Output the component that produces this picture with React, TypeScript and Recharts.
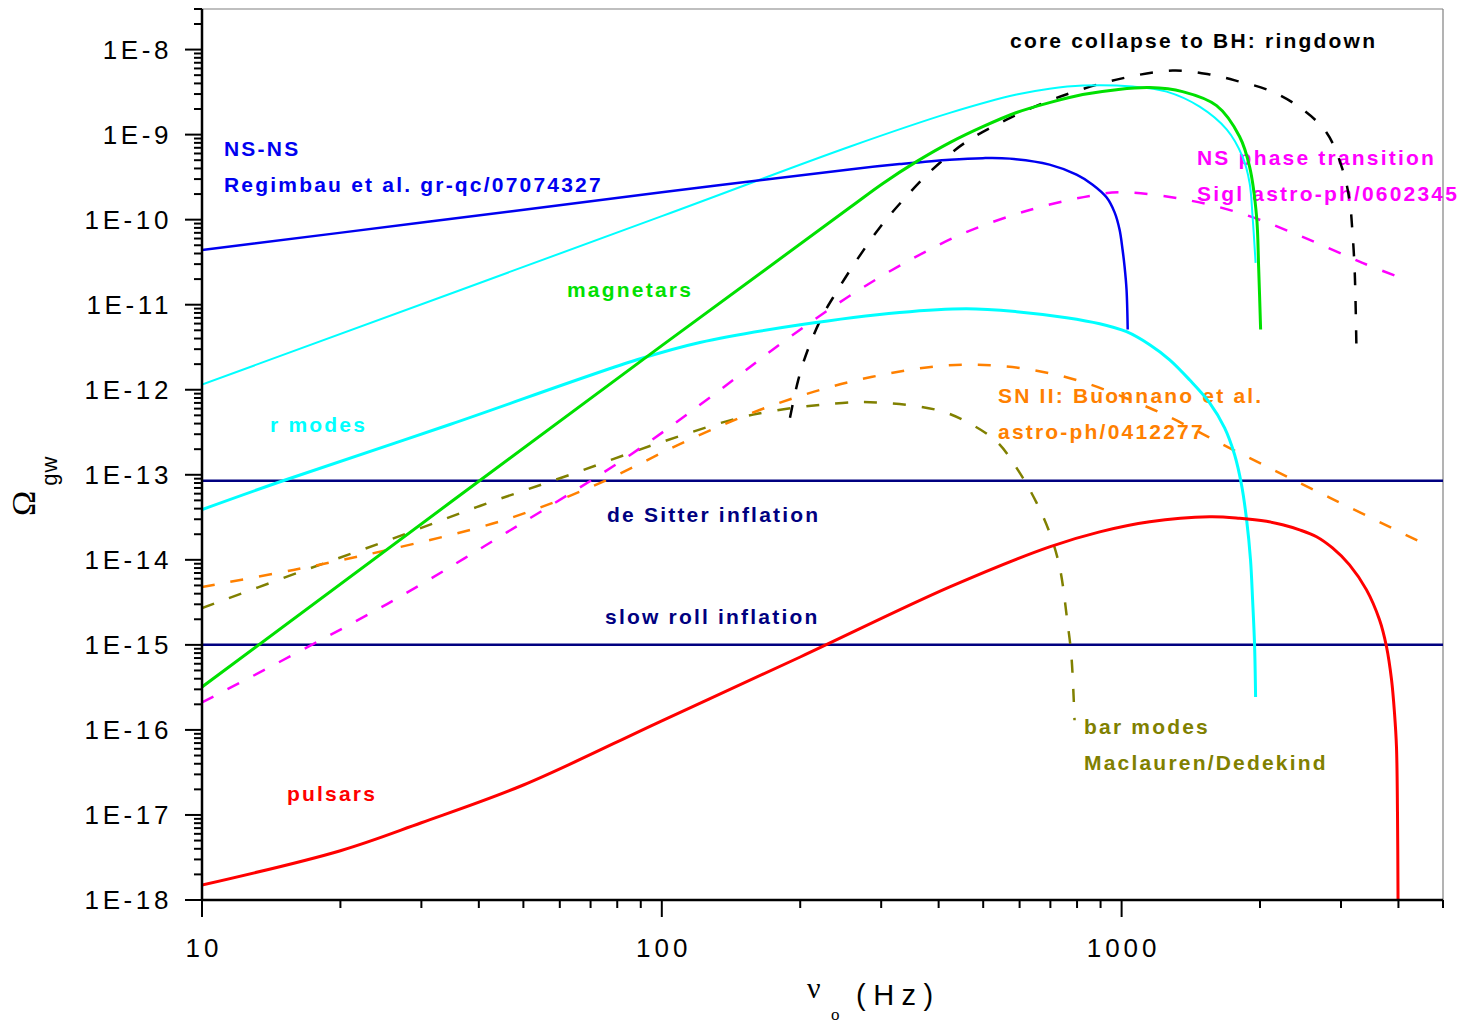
import React from 'react';
import { LineChart, Line, XAxis, YAxis, ReferenceLine, Customized } from 'recharts';

interface Pt {
  f: number;
  v: number;
}

// frequencies in Hz, Omega_gw
const nsnsFreq = [10, 31.3, 100, 256, 329, 423, 499, 571, 697, 798, 865, 928, 966, 990, 1005, 1015, 1025, 1031];
const nsnsOmega = [4.4e-11, 9.5e-11, 2.1e-10, 3.9e-10, 4.5e-10, 5.08e-10, 5.29e-10, 5.22e-10, 4.44e-10, 3.38e-10, 2.58e-10, 1.82e-10, 1.21e-10, 7.6e-11, 4.4e-11, 2.8e-11, 1.5e-11, 5.1e-12];

const rThinFreq = [10, 100, 256, 423, 591, 697, 823, 1057, 1253, 1478, 1692, 1832, 1898, 1927, 1956];
const rThinOmega = [1.15e-12, 1.1e-10, 7.2e-10, 1.8e-9, 2.96e-9, 3.47e-9, 3.77e-9, 3.67e-9, 3.2e-9, 2.13e-9, 1.15e-9, 5.5e-10, 2.72e-10, 1.08e-10, 3.1e-11];

const magFreq = [10, 100, 256, 302, 358, 423, 499, 591, 697, 823, 975, 1151, 1357, 1609, 1805, 1898, 1966, 1986, 2006];
const magOmega = [3.2e-16, 3.3e-12, 1.38e-10, 2.65e-10, 4.81e-10, 8.05e-10, 1.24e-9, 1.82e-9, 2.38e-9, 2.96e-9, 3.38e-9, 3.57e-9, 3.2e-9, 2.19e-9, 9.5e-10, 4.2e-10, 1.08e-10, 2.8e-11, 5.1e-12];

const rModesFreq = [10, 15, 34.6, 88.3, 121, 200, 329, 460, 591, 759, 896, 1025, 1151, 1272, 1405, 1554, 1675, 1761, 1823, 1870, 1907, 1927, 1946, 1956];
const rModesOmega = [3.9e-14, 8.5e-14, 3.9e-13, 2.25e-12, 3.6e-12, 5.8e-12, 8.1e-12, 8.97e-12, 8.28e-12, 7.03e-12, 5.97e-12, 4.81e-12, 3.38e-12, 2.25e-12, 1.31e-12, 7.03e-13, 3.57e-13, 1.72e-13, 7.62e-14, 2.96e-14, 1e-14, 3.38e-15, 1e-15, 2.44e-16];

const bhFreq = [190, 198, 207, 223, 240, 263, 298, 338, 388, 456, 562, 722, 975, 1291, 1554, 1805, 2097, 2438, 2790, 3023, 3131, 3178, 3210, 3226, 3243];
const bhOmega = [4.7e-13, 1.3e-12, 2.8e-12, 7.2e-12, 1.42e-11, 3.1e-11, 8.1e-11, 1.8e-10, 3.9e-10, 8.0e-10, 1.5e-9, 2.7e-9, 4.43e-9, 5.66e-9, 5.1e-9, 4.2e-9, 3.3e-9, 2.1e-9, 1.06e-9, 3.9e-10, 1.7e-10, 7.0e-11, 2.8e-11, 1.15e-11, 2.6e-12];

const phaseFreq = [10, 25.2, 46, 85.2, 134, 183, 252, 341, 456, 631, 852, 990, 1337, 1805, 2438, 3341, 4021];
const phaseOmega = [2.1e-16, 3.0e-15, 2.1e-14, 1.7e-13, 1.0e-12, 3.6e-12, 1.2e-11, 3.2e-11, 7.0e-11, 1.3e-10, 1.9e-10, 2.1e-10, 1.77e-10, 1.2e-10, 6.5e-11, 3.1e-11, 2.1e-11];

const snFreq = [10, 15.8, 25.2, 46, 73.3, 115, 180, 287, 456, 722, 1151, 1805, 2833, 4720];
const snOmega = [4.8e-15, 7.6e-15, 1.3e-14, 3.0e-14, 8.0e-14, 2.6e-13, 7.0e-13, 1.42e-12, 1.97e-12, 1.5e-12, 6.1e-13, 1.8e-13, 5.4e-14, 1.4e-14];

const barFreq = [10, 16.1, 25.6, 40.2, 63.1, 100.5, 158, 247, 293, 396, 456, 535, 600, 653, 697, 733, 763, 778, 790];
const barOmega = [2.7e-15, 7.0e-15, 1.72e-14, 4.3e-14, 1.0e-13, 2.45e-13, 5.1e-13, 7.0e-13, 7.1e-13, 5.8e-13, 4.3e-13, 2.45e-13, 1.06e-13, 4.7e-14, 2.1e-14, 8.3e-15, 1.8e-15, 7.2e-16, 1.3e-16];

const pulsarFreq = [10, 20, 30, 50, 100, 200, 423, 697, 896, 1151, 1554, 1805, 2066, 2239, 2438, 2654, 2875, 3131, 3409, 3638, 3768, 3864, 3922, 3961, 3981, 3992];
const pulsarOmega = [1.5e-18, 3.8e-18, 8.1e-18, 2.25e-17, 1.28e-16, 7.2e-16, 4.8e-15, 1.42e-14, 2.13e-14, 2.8e-14, 3.2e-14, 3.08e-14, 2.84e-14, 2.58e-14, 2.25e-14, 1.87e-14, 1.38e-14, 8.73e-15, 4.43e-15, 1.97e-15, 9.5e-16, 3.9e-16, 1.58e-16, 6.3e-17, 1.06e-17, 1e-18];

const inflFreq = [10, 5000];
const deSitterOmega = [8.5e-14, 8.5e-14];
const slowRollOmega = [1e-15, 1e-15];

// axis ticks
const xMajorTicks = [10, 100, 1000];
const xTickLabels = ['10', '100', '1000'];
const yMajorTicks = [1e-18, 1e-17, 1e-16, 1e-15, 1e-14, 1e-13, 1e-12, 1e-11, 1e-10, 1e-9, 1e-8];
const yTickLabels = ['1E-18', '1E-17', '1E-16', '1E-15', '1E-14', '1E-13', '1E-12', '1E-11', '1E-10', '1E-9', '1E-8'];

const X_MAX = 5000;
const Y_MIN = 1e-18;
const Y_MAX = 3e-8;

const zip = (f: number[], v: number[]): Pt[] => f.map((x, i) => ({ f: x, v: v[i] }));

// 1..9 times each decade, clipped to the axis end
const expandTicks = (majors: number[], max: number) => {
  const out: number[] = [];
  majors.forEach(d => {
    for (let m = 1; m <= 9; m++) {
      const t = m * d;
      if (t <= max * 1.0001) out.push(t);
    }
  });
  return out;
};
const xTicks = expandTicks(xMajorTicks, X_MAX);
const yTicks = expandTicks(yMajorTicks, Y_MAX);

const isMajor = (v: number) => {
  const lg = Math.log10(v);
  return Math.abs(lg - Math.round(lg)) < 1e-6;
};

// centripetal catmull-rom curve (same maths as d3's curveCatmullRom, alpha 0.5)
const catmullRom = (context: any) => {
  let pts: number[][] = [];
  return {
    areaStart() {},
    areaEnd() {},
    lineStart() {
      pts = [];
    },
    point(x: number, y: number) {
      pts.push([+x, +y]);
    },
    lineEnd() {
      if (!pts.length) return;
      context.moveTo(pts[0][0], pts[0][1]);
      for (let i = 0; i < pts.length - 1; i++) {
        const p0 = pts[i - 1] || pts[i];
        const p1 = pts[i];
        const p2 = pts[i + 1];
        const p3 = pts[i + 2] || p2;
        const d01 = Math.hypot(p1[0] - p0[0], p1[1] - p0[1]);
        const d12 = Math.hypot(p2[0] - p1[0], p2[1] - p1[1]);
        const d23 = Math.hypot(p3[0] - p2[0], p3[1] - p2[1]);
        const l01 = Math.sqrt(d01);
        const l12 = Math.sqrt(d12);
        const l23 = Math.sqrt(d23);
        let c1 = p1;
        let c2 = p2;
        if (l01 > 1e-9) {
          const a = 2 * d01 + 3 * l01 * l12 + d12;
          const n = 3 * l01 * (l01 + l12);
          c1 = [(p1[0] * a - p0[0] * d12 + p2[0] * d01) / n, (p1[1] * a - p0[1] * d12 + p2[1] * d01) / n];
        }
        if (l23 > 1e-9) {
          const b = 2 * d23 + 3 * l23 * l12 + d12;
          const m = 3 * l23 * (l23 + l12);
          c2 = [(p2[0] * b + p1[0] * d23 - p3[0] * d12) / m, (p2[1] * b + p1[1] * d23 - p3[1] * d12) / m];
        }
        context.bezierCurveTo(c1[0], c1[1], c2[0], c2[1], p2[0], p2[1]);
      }
    },
  };
};

const series = [
  { key: 'desitter', data: zip(inflFreq, deSitterOmega), color: '#000080', width: 2.5 },
  { key: 'slowroll', data: zip(inflFreq, slowRollOmega), color: '#000080', width: 2.5 },
  { key: 'bar', data: zip(barFreq, barOmega), color: '#808000', width: 2.5, dash: '13 16' },
  { key: 'sn', data: zip(snFreq, snOmega), color: '#ff8000', width: 2.5, dash: '13 16' },
  { key: 'phase', data: zip(phaseFreq, phaseOmega), color: '#ff00ff', width: 2.5, dash: '13 16' },
  { key: 'bh', data: zip(bhFreq, bhOmega), color: '#000000', width: 2.5, dash: '13 16' },
  { key: 'rthin', data: zip(rThinFreq, rThinOmega), color: '#00ffff', width: 2 },
  { key: 'rmodes', data: zip(rModesFreq, rModesOmega), color: '#00ffff', width: 3 },
  { key: 'nsns', data: zip(nsnsFreq, nsnsOmega), color: '#0000f0', width: 2.5 },
  { key: 'mag', data: zip(magFreq, magOmega), color: '#00e000', width: 3 },
  { key: 'pulsar', data: zip(pulsarFreq, pulsarOmega), color: '#ff0000', width: 3 },
];

const annotations = [
  { text: 'NS-NS', color: '#0000f0', x: 224, y: 156 },
  { text: 'Regimbau et al. gr-qc/07074327', color: '#0000f0', x: 224, y: 192 },
  { text: 'core collapse to BH: ringdown', color: '#000000', x: 1010, y: 48 },
  { text: 'NS phase transition', color: '#ff00ff', x: 1197, y: 165 },
  { text: 'Sigl astro-ph/0602345', color: '#ff00ff', x: 1197, y: 201 },
  { text: 'magnetars', color: '#00e000', x: 567, y: 297 },
  { text: 'r modes', color: '#00ffff', x: 270, y: 432 },
  { text: 'de Sitter inflation', color: '#000080', x: 607, y: 522 },
  { text: 'slow roll inflation', color: '#000080', x: 605, y: 624 },
  { text: 'SN II: Buonnano et al.', color: '#ff8000', x: 998, y: 403 },
  { text: 'astro-ph/0412277', color: '#ff8000', x: 998, y: 439 },
  { text: 'bar modes', color: '#808000', x: 1084, y: 734 },
  { text: 'Maclauren/Dedekind', color: '#808000', x: 1084, y: 770 },
  { text: 'pulsars', color: '#ff0000', x: 287, y: 801 },
];

const SANS = '"Liberation Sans", Arial, sans-serif';
const SERIF = '"Liberation Serif", "Times New Roman", serif';

const XTick = (props: any) => {
  const { x, y, payload } = props;
  const v = payload.value;
  const major = isMajor(v);
  const idx = xMajorTicks.findIndex(m => Math.abs(m - v) < 1e-6);
  return (
    <g>
      <line x1={x} x2={x} y1={y} y2={y + (major ? 17 : 8)} stroke="#000" strokeWidth={2} />
      {major && idx >= 0 && (
        <text x={x + 2} y={y + 57} textAnchor="middle" fontFamily={SANS} fontSize={26} letterSpacing={4} fill="#000">
          {xTickLabels[idx]}
        </text>
      )}
    </g>
  );
};

const YTick = (props: any) => {
  const { x, y, payload } = props;
  const v = payload.value;
  const major = isMajor(v);
  const idx = Math.round(Math.log10(v)) + 18;
  return (
    <g>
      <line x1={x} x2={x - (major ? 17 : 8)} y1={y} y2={y} stroke="#000" strokeWidth={2} />
      {major && (
        <text x={x - 30} y={y + 9} textAnchor="end" fontFamily={SANS} fontSize={26} letterSpacing={3.6} fill="#000">
          {yTickLabels[idx]}
        </text>
      )}
    </g>
  );
};

const Annotations = () => (
  <g>
    {annotations.map(a => (
      <text key={a.text} x={a.x} y={a.y} fill={a.color} fontFamily={SANS} fontWeight="bold" fontSize={21} letterSpacing={2.2}>
        {a.text}
      </text>
    ))}
    {/* y axis title: Omega_gw */}
    <text transform="rotate(-90)" x={-516} y={35} fontFamily={SERIF} fontSize={34} fill="#000">
      Ω
      <tspan dx={5} dy={22} fontFamily={SANS} fontSize={22} letterSpacing={1}>gw</tspan>
    </text>
    {/* x axis title: nu_o (Hz) */}
    <text x={807} y={998} fontFamily={SERIF} fontSize={30} fill="#000">ν</text>
    <text x={831} y={1020} fontFamily={SERIF} fontSize={17} fill="#000">o</text>
    <text x={856} y={1005} fontFamily={SANS} fontSize={29} letterSpacing={7.5} fill="#000">(Hz)</text>
  </g>
);

export default function App() {
  return (
    <div style={{ position: 'absolute', left: 0, top: 0, background: '#fff' }}>
      <LineChart width={1461} height={1024} margin={{ top: 9, right: 18, bottom: 0, left: 0 }}>
        <XAxis
          dataKey="f"
          type="number"
          scale="log"
          domain={[10, X_MAX]}
          allowDataOverflow
          ticks={xTicks}
          interval={0}
          tick={<XTick />}
          tickLine={false}
          tickSize={0}
          tickMargin={0}
          height={124}
          axisLine={{ stroke: '#000', strokeWidth: 2.5 }}
        />
        <YAxis
          dataKey="v"
          type="number"
          scale="log"
          domain={[Y_MIN, Y_MAX]}
          allowDataOverflow
          ticks={yTicks}
          interval={0}
          tick={<YTick />}
          tickLine={false}
          tickSize={0}
          tickMargin={0}
          width={202}
          axisLine={{ stroke: '#000', strokeWidth: 2.5 }}
        />
        <ReferenceLine y={Y_MAX} stroke="#808080" strokeWidth={1.2} />
        <ReferenceLine x={X_MAX} stroke="#808080" strokeWidth={1.2} />
        {series.map(s => (
          <Line
            key={s.key}
            data={s.data}
            dataKey="v"
            type={catmullRom as any}
            stroke={s.color}
            strokeWidth={s.width}
            strokeDasharray={s.dash}
            dot={false}
            activeDot={false}
            isAnimationActive={false}
          />
        ))}
        <Customized component={<Annotations />} />
      </LineChart>
    </div>
  );
}
